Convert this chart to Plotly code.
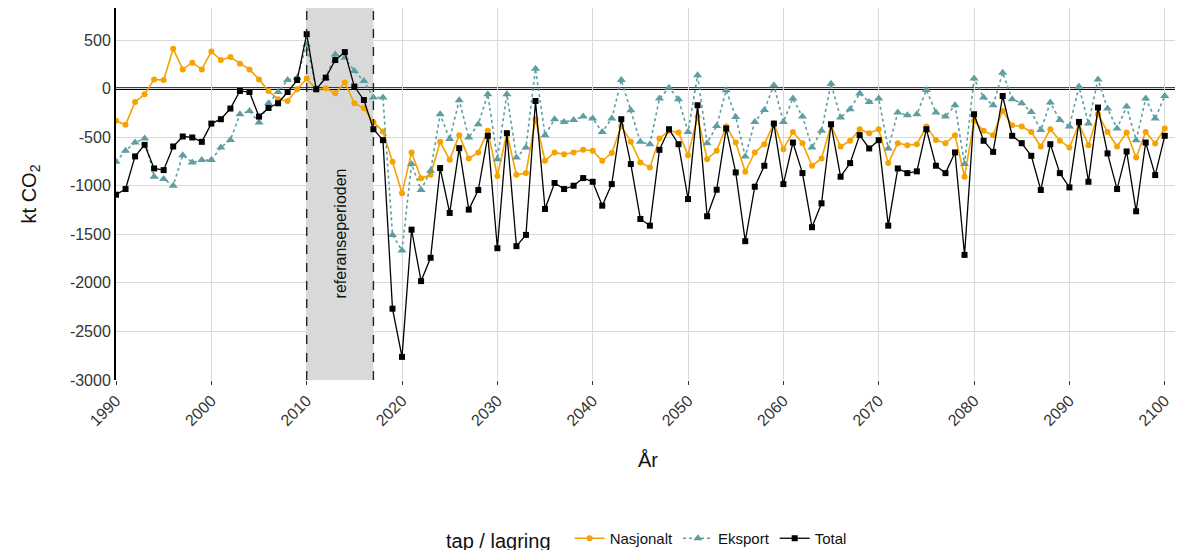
import plotly.graph_objects as go

years = list(range(1990, 2101))

nasjonalt = [
    -332, -373, -137, -58, 95, 88, 410, 198, 267, 198,
    383, 294, 325, 257, 198, 95, -24, -110, -127, -7,
    103, -7, 3, -48, 62, -151, -202, -343, -441, -753,
    -1078, -657, -924, -887, -548, -733, -479, -719, -657, -435,
    -900, -459, -887, -870, -315, -743, -657, -675, -657, -630,
    -640, -743, -664, -384, -548, -760, -811, -513, -435, -452,
    -685, -288, -726, -640, -390, -555, -856, -657, -572, -360,
    -623, -446, -562, -794, -719, -377, -596, -537, -418, -459,
    -418, -767, -562, -582, -572, -390, -528, -562, -479, -907,
    -332, -435, -479, -230, -377, -390, -446, -596, -418, -537,
    -606, -367, -582, -264, -446, -596, -452, -709, -446, -565, -411,
]

eksport = [
    -753, -640, -555, -513, -907, -931, -1000, -685, -760, -736,
    -736, -606, -528, -264, -230, -349, -151, -35, 88, 113,
    455, 0, 110, 352, 318, 181, 78, -92, -92, -1506,
    -1667, -777, -1044, -846, -264, -520, -120, -503, -367, -58,
    -726, -58, -709, -606, 205, -479, -315, -343, -322, -288,
    -308, -446, -308, 88, -223, -548, -572, -103, 10, -110,
    -446, 137, -562, -384, -17, -291, -698, -343, -220, 34,
    -343, -103, -288, -606, -435, 51, -298, -212, -51, -137,
    -103, -616, -247, -274, -264, -14, -247, -288, -171, -777,
    103, -92, -171, 164, -110, -151, -240, -425, -144, -322,
    -390, 21, -360, 95, -205, -411, -185, -531, -103, -308, -76,
]

total = [
    -1092, -1034, -698, -579, -822, -839, -596, -493, -503, -548,
    -360, -315, -205, -24, -35, -288, -199, -151, -35, 88,
    560, -7, 113, 294, 376, 21, -117, -418, -531, -2266,
    -2762, -1452, -1982, -1742, -818, -1280, -613, -1246, -1044, -486,
    -1643, -459, -1622, -1506, -127, -1239, -972, -1034, -1000, -921,
    -959, -1205, -983, -315, -777, -1342, -1411, -630, -418, -572,
    -1137, -171, -1314, -1041, -411, -863, -1571, -1010, -794, -360,
    -983, -555, -870, -1427, -1181, -367, -907, -767, -479, -616,
    -531, -1411, -822, -870, -852, -418, -794, -870, -657, -1712,
    -264, -537, -651, -76, -486, -562, -692, -1044, -572, -870,
    -1017, -343, -959, -195, -667, -1034, -647, -1263, -555, -890, -486,
]

ref_start, ref_end = 2010, 2017
x_ticks = list(range(1990, 2101, 10))
y_ticks = list(range(-3000, 501, 500))

ORANGE = "#F5A300"
TEAL = "#5F9EA0"
FONT = "Arial, Liberation Sans, sans-serif"

fig = go.Figure()
fig.add_trace(go.Scatter(
    x=years, y=nasjonalt, name="Nasjonalt", mode="lines+markers",
    line=dict(color=ORANGE, width=1.6),
    marker=dict(symbol="circle", size=6, color=ORANGE),
))
fig.add_trace(go.Scatter(
    x=years, y=eksport, name="Eksport", mode="lines+markers",
    line=dict(color=TEAL, width=1.6, dash="dot"),
    marker=dict(symbol="triangle-up", size=8, color=TEAL),
))
fig.add_trace(go.Scatter(
    x=years, y=total, name="Total", mode="lines+markers",
    line=dict(color="black", width=1.3),
    marker=dict(symbol="square", size=6, color="black"),
))

# reference period band and its borders
fig.add_shape(type="rect", xref="x", yref="paper", x0=ref_start, x1=ref_end,
              y0=0, y1=1, fillcolor="#d9d9d9", line_width=0, layer="between")
for xv in (ref_start, ref_end):
    fig.add_shape(type="line", xref="x", yref="paper", x0=xv, x1=xv, y0=0, y1=1,
                  line=dict(color="#222", width=1.4, dash="dash"), layer="above")
fig.add_shape(type="line", xref="paper", yref="y", x0=0, x1=1, y0=0, y1=0,
              line=dict(color="black", width=2.6), layer="between")

fig.add_annotation(x=(ref_start + ref_end) / 2, y=-1490, text="referanseperioden",
                   textangle=-90, showarrow=False,
                   font=dict(family=FONT, size=16, color="#111"))

# the page has an 8px body margin, so the margins are shifted to compensate
fig.update_layout(
    width=1183, height=550,
    template="plotly_white",
    plot_bgcolor="white",
    font=dict(family=FONT, color="#222"),
    margin=dict(l=108, r=11, t=0, b=176),
    legend=dict(
        orientation="h", x=0.5, xanchor="center", y=-0.432, yanchor="middle",
        title=dict(text="tap / lagring  ", font=dict(size=20, color="#111")),
        font=dict(size=15, color="#111"),
    ),
    xaxis=dict(
        range=[1990, 2101.6], tickvals=x_ticks, tickangle=-45,
        tickfont=dict(size=16, color="#333"),
        showgrid=True, gridcolor="#d9d9d9", gridwidth=1.3,
        zeroline=False, showline=False, automargin=False,
        ticks="outside", ticklen=4, tickcolor="#333",
        title=dict(text="År", font=dict(size=20, color="#111"), standoff=24),
    ),
    yaxis=dict(
        range=[-3000, 830], tickvals=y_ticks,
        ticktext=[str(v) for v in y_ticks],
        tickfont=dict(size=16, color="#333"),
        showgrid=True, gridcolor="#d9d9d9", gridwidth=1.3,
        zeroline=False, showline=True, linecolor="black", linewidth=2,
        ticks="", automargin=False,
        title=dict(text="kt CO<sub>2</sub>", font=dict(size=20, color="#111"), standoff=28),
    ),
)

fig.write_html("out.html")
